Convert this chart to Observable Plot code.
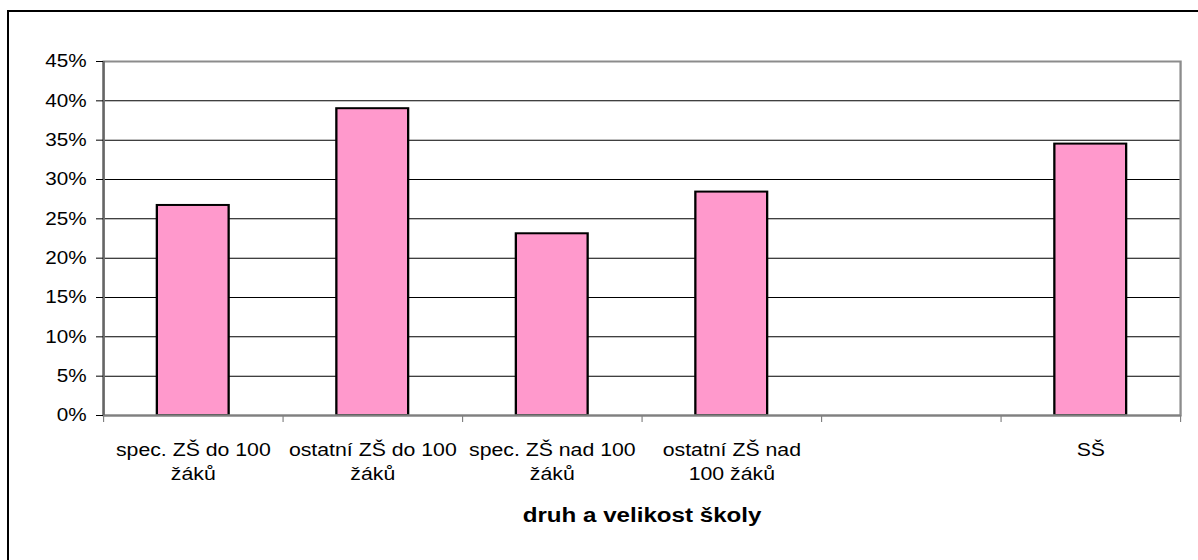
<!DOCTYPE html>
<html>
<head>
<meta charset="utf-8">
<script src="https://cdn.jsdelivr.net/npm/d3@7"></script>
<script src="https://cdn.jsdelivr.net/npm/@observablehq/plot@0.6"></script>
<style>
  html, body { margin: 0; padding: 0; background: #fff; }
  #wrap { position: relative; width: 1198px; height: 560px; overflow: hidden; }
  #border { position: absolute; left: 7px; top: 10px; width: 1300px; height: 700px;
            border-left: 2px solid #000; border-top: 2px solid #000; pointer-events: none; }
  #chart { position: absolute; left: 0; top: 0; }
</style>
</head>
<body>
<div id="wrap"><div id="chart"></div><div id="border"></div></div>
<script>
// ---- data ----
const categories = [
  "spec. ZŠ do 100\nžáků",
  "ostatní ZŠ do 100\nžáků",
  "spec. ZŠ nad 100\nžáků",
  "ostatní ZŠ nad\n100 žáků",
  "",
  "SŠ"
];
const values = [26.7, 39.0, 23.1, 28.4, null, 34.5];
const yTicks = [0, 5, 10, 15, 20, 25, 30, 35, 40, 45];
const xTitle = "druh a velikost školy";

// ---- layout ----
const S = 1.15;               // horizontal stretch of the original picture
const W = 1198 / S, H = 560;

const rows = categories.map((c, i) => ({i, c, v: values[i]}));
const bars = rows.filter(d => d.v != null);

const chart = Plot.plot({
  width: W,
  height: H,
  marginLeft: 103 / S,
  marginRight: 18 / S,
  marginTop: 61,
  marginBottom: 145,
  style: {fontFamily: "'Liberation Sans', Arial, sans-serif", background: "transparent", color: "#000"},
  x: {type: "linear", domain: [0, categories.length], axis: null, label: null},
  y: {domain: [0, 45], axis: null, label: null},
  marks: [
    Plot.ruleY(yTicks.filter(t => t > 0 && t < 45), {stroke: "#000", strokeWidth: 1}),
    Plot.rectY(bars, {x1: d => d.i + 0.3, x2: d => d.i + 0.7, y: "v",
      fill: "#FF99CC", stroke: "#000", strokeWidth: 2}),
    Plot.frame({stroke: "#8c8c8c", strokeWidth: 2}),
    Plot.ruleY([0], {stroke: "#808080", strokeWidth: 2}),
    Plot.ruleX([0], {stroke: "#666", strokeWidth: 2}),
    Plot.axisY({ticks: yTicks, tickFormat: d => d + "%", tickSize: 7 / S, label: null,
      tickPadding: 10 / S, fontSize: 18, stroke: "#000"}),
    Plot.axisX({ticks: d3.range(categories.length + 1), tickFormat: () => "", label: null,
      tickSize: 7, stroke: "#808080"}),
    Plot.text(rows, {x: d => d.i + 0.5, text: "c", frameAnchor: "bottom",
      lineAnchor: "top", dy: 23, fontSize: 18.5, lineHeight: 1.3, fill: "#000"}),
    Plot.text([xTitle], {x: categories.length / 2, text: d => d, frameAnchor: "bottom",
      lineAnchor: "bottom", dy: 106, fontSize: 21, fontWeight: "bold", fill: "#000"})
  ]
});

chart.setAttribute("viewBox", `0 0 ${W} ${H}`);
chart.setAttribute("preserveAspectRatio", "none");
chart.setAttribute("width", 1198);
chart.setAttribute("height", H);
chart.style.width = "1198px";
chart.style.height = H + "px";
chart.style.maxWidth = "none";
document.getElementById("chart").appendChild(chart);
</script>
</body>
</html>
